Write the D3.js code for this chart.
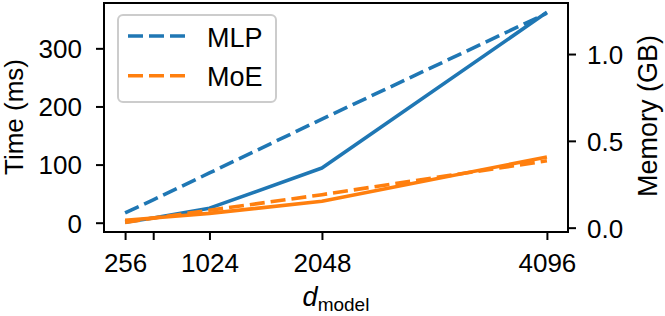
<!DOCTYPE html>
<html>
<head>
<meta charset="utf-8">
<script src="https://cdn.jsdelivr.net/npm/d3@7"></script>
<style>
  body { margin: 0; background: #fff; }
  text { font-family: "Liberation Sans", Arial, sans-serif; fill: #000; }
</style>
</head>
<body>
<svg id="chart" width="665" height="316"></svg>
<script>
let dmodel = [256, 512, 1024, 2048, 4096]
let xTicks = [256, 512, 1024, 2048, 4096]
let xLabels = ["256", "", "1024", "2048", "4096"]

let timeMLP = [1, 8, 25, 94, 362]
let timeMoE = [4, 8, 16, 37, 113]
let memMLP = [0.085, 0.16, 0.315, 0.625, 1.235]
let memMoE = [0.03, 0.055, 0.1, 0.19, 0.385]

let timeTicks = [0, 100, 200, 300]
let memTicks = [0.0, 0.5, 1.0]
let names = ["MLP", "MoE"]
let colors = ["#1f77b4", "#ff7f0e"]

let svg = d3.select("#chart")
let pLeft = 104, pRight = 568, pTop = 3, pBottom = 232

let x = d3.scaleLinear().domain([64, 4288]).range([pLeft, pRight])
let yT = d3.scaleLinear().domain([-16, 378]).range([pBottom, pTop])
let yM = d3.scaleLinear().domain([-0.025, 1.294]).range([pBottom, pTop])

let lineT = d3.line().x((d, i) => x(dmodel[i])).y(d => yT(d))
let lineM = d3.line().x((d, i) => x(dmodel[i])).y(d => yM(d))

// solid = time (left axis)
let times = [timeMLP, timeMoE]
times.forEach((s, k) => {
    svg.append("path").attr("d", lineT(s))
      .attr("fill", "none").attr("stroke", colors[k])
      .attr("stroke-width", 3.6).attr("stroke-linejoin", "round")
})

// dashed = memory (right axis)
let mems = [memMLP, memMoE]
mems.forEach((s, k) => {
    svg.append("path").attr("d", lineM(s))
      .attr("fill", "none").attr("stroke", colors[k])
      .attr("stroke-width", 3.6).attr("stroke-dasharray", "15,6")
})

// frame
svg.append("rect").attr("x", pLeft).attr("y", pTop)
  .attr("width", pRight - pLeft).attr("height", pBottom - pTop)
  .attr("fill", "none").attr("stroke", "#000").attr("stroke-width", 2)

let fs = 26

// left axis
let axL = svg.append("g").attr("transform", `translate(${pLeft},0)`)
  .call(d3.axisLeft(yT).tickValues(timeTicks).tickSize(8).tickPadding(14))
// right axis
let axR = svg.append("g").attr("transform", `translate(${pRight},0)`)
  .call(d3.axisRight(yM).tickValues(memTicks).tickSize(8).tickPadding(11).tickFormat(d3.format(".1f")))
// bottom axis
let axB = svg.append("g").attr("transform", `translate(0,${pBottom})`)
  .call(d3.axisBottom(x).tickValues(xTicks).tickSize(8).tickFormat((d, i) => xLabels[i]))

;[axL, axR, axB].forEach(a => {
    a.select(".domain").remove()
    a.selectAll(".tick line").attr("stroke", "#000").attr("stroke-width", 2)
    a.selectAll(".tick text").style("font-size", fs + "px")
      .style("font-family", "'Liberation Sans', Arial, sans-serif")
})
axL.selectAll(".tick text").attr("dy", "0.36em")
axR.selectAll(".tick text").attr("dy", "0.36em")
axB.selectAll(".tick text").attr("y", 40).attr("dy", 0)

// axis labels
svg.append("text").attr("transform", "translate(23,117) rotate(-90)")
  .attr("text-anchor", "middle").style("font-size", "26px").text("Time (ms)")
svg.append("text").attr("transform", "translate(657,116) rotate(-90)")
  .attr("text-anchor", "middle").style("font-size", "27px").text("Memory (GB)")

let xl = svg.append("text").attr("x", 336).attr("y", 306).attr("text-anchor", "middle")
xl.append("tspan").style("font-size", "27px").style("font-style", "italic").text("d")
xl.append("tspan").style("font-size", "19px").attr("dy", 5).text("model")

// legend
let lg = svg.append("g")
lg.append("rect").attr("x", 118).attr("y", 15).attr("width", 158).attr("height", 87)
  .attr("rx", 5).attr("fill", "#fff").attr("fill-opacity", 0.8)
  .attr("stroke", "#cccccc").attr("stroke-width", 2)
names.forEach((n, k) => {
    let yy = 36 + k * 39.7
    lg.append("line").attr("x1", 128).attr("x2", 186).attr("y1", yy).attr("y2", yy)
      .attr("stroke", colors[k]).attr("stroke-width", 3.6).attr("stroke-dasharray", "15,6")
    lg.append("text").attr("x", 207).attr("y", yy + 10.5)
      .style("font-size", "27px").text(n)
})
</script>
</body>
</html>
